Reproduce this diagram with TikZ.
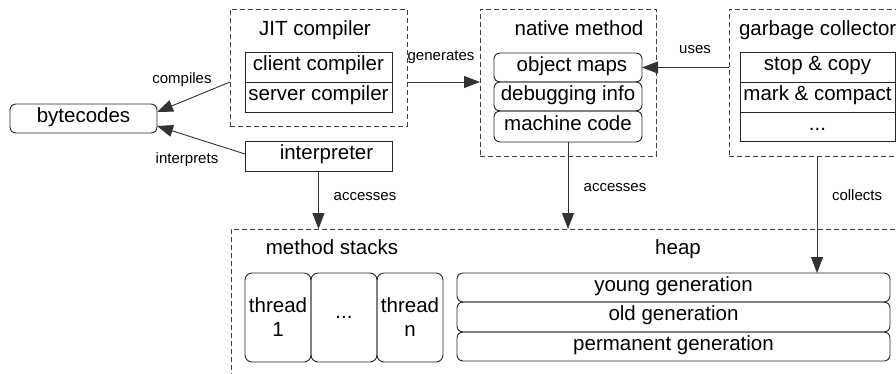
\documentclass[tikz,border=0pt]{standalone}
\usepackage{fontspec}
\setmainfont{Liberation Sans}
\usetikzlibrary{arrows.meta,calc}
\begin{document}
\begin{tikzpicture}[x=1pt,y=-1pt,
  every node/.style={inner sep=0pt, outer sep=0pt, font=\fontsize{20.5}{24}\selectfont},
  txt/.style={text height=0.72em, text depth=0pt},
  lbl/.style={font=\fontsize{15}{18}\selectfont, text height=0.72em, text depth=0pt},
  cell/.style 2 args={minimum width=#1, minimum height=#2},
  sq/.style={draw=black!85, line width=0.9pt, txt},
  rd/.style={draw=black!85, line width=0.9pt, rounded corners=6pt, txt},
  grp/.style={draw=black!75, line width=0.8pt, dash pattern=on 5pt off 3pt},
  arr/.style={draw=black!80, line width=0.9pt, -{Triangle[length=16pt,width=12pt]}}
]
\useasboundingbox (0,0) rectangle (896,373);
\clip (0,0) rectangle (896,373);

% bytecodes
\node[rd, cell={147pt}{29pt}] (bc) at (83.5,118.5) {bytecodes};

% JIT compiler
\node[grp, cell={177pt}{117pt}] (jit) at (318.5,67.5) {};
\node[txt] (jitl) at (315,32) {JIT compiler};
\node[sq, cell={147pt}{30pt}] (client) at (318.5,67) {client compiler};
\node[sq, cell={147pt}{30pt}] (server) at (318.5,97) {server compiler};

% interpreter
\node[sq, cell={147pt}{30pt}] (interp) at (318.5,156) {\hspace*{16pt}interpreter};

% native method
\node[grp, cell={176pt}{147pt}] (nm) at (568,82.5) {};
\node[txt] (nml) at (579,32) {native method};
\node[rd, cell={148pt}{29pt}] (om) at (568,67.5) {\hspace*{8pt}object maps};
\node[rd, cell={148pt}{29pt}] (dbg) at (568,96.5) {debugging info};
\node[rd, cell={148pt}{31pt}] (mc) at (568,126.5) {machine code};

% garbage collector
\node[grp, cell={176pt}{147pt}] (gc) at (817,82.5) {};
\node[txt, anchor=west] (gcl) at (739,32) {garbage collector};
\node[sq, cell={155pt}{30pt}] (sc) at (817.5,67) {stop \& copy};
\node[sq, cell={155pt}{30pt}] (mk) at (817.5,97) {mark \& compact};
\node[sq, cell={155pt}{29pt}] (gdots) at (817.5,126.5) {...};

% memory area
\node[grp, cell={674pt}{156pt}] (mem) at (568,307) {};
\node[txt] (msl) at (332,250.6) {method stacks};
\node[txt] (hpl) at (678,250.6) {heap};
\node[draw=black!85, line width=0.9pt, rounded corners=7pt, cell={66pt}{89pt}, align=center] (t1) at (278,317.5) {thread\\1};
\node[draw=black!85, line width=0.9pt, rounded corners=7pt, cell={66pt}{89pt}, align=center] (t2) at (344,317.5) {...};
\node[draw=black!85, line width=0.9pt, rounded corners=7pt, cell={66pt}{89pt}, align=center] (t3) at (410,317.5) {thread\\n};
\node[rd, cell={433pt}{29pt}] (young) at (673.5,287.5) {young generation};
\node[rd, cell={433pt}{30pt}] (old) at (673.5,317) {old generation};
\node[rd, cell={433pt}{29pt}] (perm) at (673.5,346.5) {permanent generation};

% connectors
\draw[arr] (jit.west |- client.south) -- ([yshift=6.5pt]bc.east);
\node[lbl] (lcomp) at (182,80) {compiles};
\draw[arr] ([yshift=2pt]interp.west) -- ([yshift=-7.5pt]bc.east);
\node[lbl] (linterp) at (187,160) {interprets};
\draw[arr] (jit.east |- client.south) -- (nm.west |- client.south);
\node[lbl] (lgen) at (441,57) {generates};
\draw[arr] (gc.west |- om.east) -- (om.east);
\node[lbl] (luses) at (695,50) {uses};
\draw[arr] (interp.south) -- (interp.south |- mem.north);
\node[lbl] (lacc1) at (365,197) {accesses};
\draw[arr] (mc.south) -- (mc.south |- mem.north);
\node[lbl] (lacc2) at (615,188) {accesses};
\draw[arr] (gc.south) -- (gc.south |- young.north);
\node[lbl] (lcoll) at (857,197) {collects};
\end{tikzpicture}
\end{document}
